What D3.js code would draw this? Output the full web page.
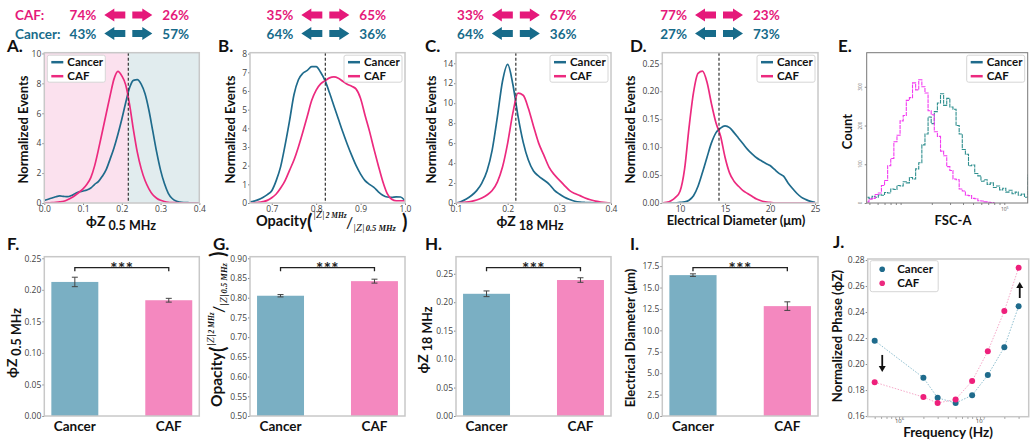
<!DOCTYPE html>
<html>
<head>
<meta charset="utf-8">
<script src="https://cdn.jsdelivr.net/npm/d3@7"></script>
<style>
body { margin: 0; background: #fff; }
</style>
</head>
<body>
<script>
// ---------- data ----------
const groups = ["Cancer", "CAF"];

// percentage of cells left / right of each threshold (panels A-D)
const splitCAF = [[74, 26], [35, 65], [33, 67], [77, 23]];
const splitCancer = [[43, 57], [64, 36], [64, 36], [27, 73]];
const thresholds = [0.2168, 0.8206, 0.2158, 14.33];

// A. phase at 0.5 MHz
const phiLowX = [0,0.01,0.02,0.03,0.04,0.05,0.06,0.07,0.08,0.09,0.1,0.11,0.12,0.13,0.14,0.15,0.16,0.17,0.18,0.19,0.2,0.21,0.22,0.23,0.24,0.25,0.26,0.27,0.28,0.29,0.3,0.31,0.32,0.33,0.34,0.35,0.36,0.37,0.38,0.39,0.4];
const phiLowCancer = [0.18,0.25,0.33,0.42,0.47,0.44,0.42,0.5,0.64,0.74,0.8,0.87,1.0,1.25,1.45,1.8,2.25,2.95,3.7,4.6,5.6,6.7,7.7,8.2,8.25,7.95,7.3,6.2,4.8,3.4,2.2,1.3,0.65,0.3,0.13,0.06,0.03,0.02,0.01,0,0];
const phiLowCAF = [0,0.01,0.02,0.04,0.07,0.12,0.22,0.35,0.52,0.72,0.95,1.25,1.7,2.5,3.6,4.8,6.0,7.2,8.3,8.8,8.5,7.9,6.6,4.9,3.4,2.3,1.5,0.95,0.55,0.32,0.18,0.1,0.05,0.03,0.02,0.01,0,0,0,0,0];

// B. opacity
const opacityX = [0.65,0.66,0.67,0.68,0.69,0.7,0.71,0.72,0.73,0.74,0.75,0.76,0.77,0.78,0.79,0.8,0.81,0.82,0.83,0.84,0.85,0.86,0.87,0.88,0.89,0.9,0.91,0.92,0.93,0.94,0.95,0.96,0.97,0.98,0.99,1.0];
const opacityCancer = [0.05,0.1,0.18,0.3,0.45,0.66,1.2,1.95,3.1,4.4,5.8,6.6,6.95,7.1,7.3,7.3,7.0,6.55,5.9,5.2,4.5,3.8,3.15,2.55,2.0,1.55,1.2,1.0,0.84,0.6,0.42,0.32,0.3,0.33,0.32,0.12];
const opacityCAF = [0,0.01,0.03,0.07,0.14,0.28,0.48,0.8,1.2,1.75,2.3,3.0,3.8,4.65,5.5,6.05,6.38,6.55,6.7,6.75,6.68,6.52,6.36,6.25,6.1,5.6,4.7,3.85,2.9,2.0,1.15,0.5,0.2,0.12,0.12,0.12];

// C. phase at 18 MHz
const phiHighX = [0.1,0.11,0.12,0.13,0.14,0.15,0.16,0.17,0.18,0.19,0.2,0.21,0.22,0.23,0.24,0.25,0.26,0.27,0.28,0.29,0.3,0.31,0.32,0.33,0.34,0.35,0.36,0.37,0.38,0.39,0.4];
const phiHighCancer = [0,0.15,0.4,0.75,1.24,2.0,3.2,5.3,8.6,12.2,13.9,11.9,8.7,6.1,4.3,3.2,2.7,2.3,1.9,1.3,0.9,0.58,0.35,0.18,0.09,0.05,0.03,0.02,0.01,0,0];
const phiHighCAF = [0,0.03,0.08,0.17,0.3,0.5,0.8,1.25,2.1,3.6,6.0,9.0,11.0,10.8,9.5,7.7,6.0,4.8,3.6,2.85,2.3,1.75,1.24,0.95,0.74,0.5,0.32,0.18,0.1,0.04,0];

// D. electrical diameter (um)
const diamX = [8,8.5,9,9.5,10,10.5,11,11.5,12,12.5,13,13.5,14,14.5,15,15.5,16,16.5,17,17.5,18,18.5,19,19.5,20,20.5,21,21.5,22,22.5,23,23.5,24,24.5,25];
const diamCancer = [0,0,0,0,0.001,0.002,0.005,0.013,0.03,0.055,0.082,0.108,0.126,0.134,0.138,0.135,0.126,0.116,0.106,0.096,0.088,0.081,0.076,0.071,0.067,0.06,0.053,0.048,0.036,0.026,0.017,0.01,0.006,0.003,0.001];
const diamCAF = [0,0.001,0.004,0.01,0.021,0.06,0.135,0.198,0.232,0.236,0.216,0.177,0.143,0.12,0.082,0.054,0.039,0.03,0.022,0.017,0.012,0.007,0.004,0.002,0.001,0,0,0,0,0,0,0,0,0,0];

// E. flow cytometry FSC-A histogram (bin centres as log10 FSC-A)
const fscBinLog = [3.68,3.71,3.74,3.77,3.80,3.83,3.86,3.89,3.92,3.95,3.98,4.01,4.04,4.07,4.10,4.13,4.16,4.19,4.22,4.25,4.28,4.31,4.34,4.37,4.40,4.43,4.46,4.49,4.52,4.55,4.58,4.61,4.64,4.67,4.70,4.73,4.76,4.79,4.82,4.85,4.88,4.91,4.94,4.97,5.00,5.03,5.06,5.09,5.12,5.15,5.18,5.21,5.24];
const fscCancer = [15,12,17,15,21,20,27,26,36,35,45,44,55,52,66,62,88,104,150,178,222,205,236,258,282,252,270,248,242,200,178,138,126,96,98,76,70,56,60,48,52,40,44,34,38,28,33,24,28,20,23,15,72];
const fscCAF = [3,10,12,22,26,45,58,96,115,158,175,212,226,265,272,310,292,318,300,284,238,228,184,172,134,122,94,84,62,60,36,31,20,19,12,11,6,5,3,2,1,0];

// F-I. means and errors
const barPhiLow = [0.2125, 0.1835], errPhiLow = [0.0075, 0.003];
const barOpacity = [0.805, 0.842], errOpacity = [0.003, 0.005];
const barPhiHigh = [0.2148, 0.239], errPhiHigh = [0.005, 0.004];
const barDiam = [16.45, 12.83], errDiam = [0.15, 0.5];

// J. normalized phase vs frequency
const freqHz = [5e5, 2e6, 3e6, 5e6, 8e6, 1.25e7, 2e7, 3e7];
const phaseCancer = [0.218, 0.1895, 0.174, 0.170, 0.176, 0.1915, 0.213, 0.2444];
const phaseCAF = [0.186, 0.1746, 0.170, 0.1728, 0.187, 0.2098, 0.2408, 0.274];

// ---------- styling ----------
const C_CAN = "#1f6b8c", C_CAF = "#ec2a7f";
const T_CAN = "#176b8a", T_CAF = "#e5197a";
const FONT = "Lato, 'Open Sans', sans-serif";
const TICKFONT = "'Open Sans', sans-serif";
const SERIF = "'Liberation Serif', 'DejaVu Serif', serif";

const svg = d3.select("body").append("svg")
    .attr("width", 1035).attr("height", 446)
    .attr("font-family", FONT);
let clipN = 0;

function panel(box) {
    const id = "clip" + (clipN++);
    svg.append("defs").append("clipPath").attr("id", id).append("rect")
        .attr("x", box.x0).attr("y", box.y0)
        .attr("width", box.x1 - box.x0).attr("height", box.y1 - box.y0);
    return {g: svg.append("g"), clip: `url(#${id})`};
}

function styleAxis(a) {
    a.select(".domain").remove();
    a.attr("font-family", TICKFONT).attr("font-size", 8.5);
    a.selectAll(".tick line").attr("stroke", "#888");
    a.selectAll(".tick text").attr("fill", "#444");
}

function frameRect(g, box, color, w) {
    g.append("rect")
        .attr("x", box.x0).attr("y", box.y0)
        .attr("width", box.x1 - box.x0).attr("height", box.y1 - box.y0)
        .attr("fill", "none").attr("stroke", color || "#c8c8c8").attr("stroke-width", w || 1.5);
}

function legend(g, lx, ly, dots) {
    const w = dots ? 68 : 58, h = dots ? 31 : 27, step = 14;
    g.append("rect").attr("x", lx).attr("y", ly).attr("width", w).attr("height", h)
        .attr("rx", 2).attr("fill", "#fff").attr("stroke", "#d6d6d6");
    groups.forEach((name, i) => {
        const yy = ly + (dots ? 8.5 : 7) + i * step;
        const col = i === 0 ? C_CAN : C_CAF;
        if (dots) {
            g.append("circle").attr("cx", lx + 12).attr("cy", yy).attr("r", 2.8).attr("fill", col);
        } else {
            g.append("line").attr("x1", lx + 4).attr("x2", lx + 16).attr("y1", yy).attr("y2", yy)
                .attr("stroke", col).attr("stroke-width", 2.5);
        }
        g.append("text").attr("x", lx + (dots ? 27 : 20)).attr("y", yy + 4)
            .attr("font-size", 11.5).attr("font-weight", 700).attr("fill", "#111").text(name);
    });
}

function panelLetter(x, y, s) {
    svg.append("text").attr("x", x).attr("y", y).attr("font-size", 17).attr("font-weight", 700)
        .attr("fill", "#111").text(s);
}

function boldLabel(x, y, s, rotate, size) {
    svg.append("text")
        .attr("transform", rotate ? `translate(${x},${y}) rotate(-90)` : `translate(${x},${y})`)
        .attr("text-anchor", "middle").attr("font-size", size || 13).attr("font-weight", 700)
        .attr("fill", "#111").text(s);
}

function phiLabel(x, y, sub, rotate) {
    const t = svg.append("text")
        .attr("transform", rotate ? `translate(${x},${y}) rotate(-90)` : `translate(${x},${y})`)
        .attr("text-anchor", "middle").attr("font-weight", 700).attr("fill", "#111");
    t.append("tspan").attr("font-size", 14).text("ϕZ");
    t.append("tspan").attr("font-size", 12.5).attr("dx", 3).attr("dy", 3.5).text(sub);
}

// "Opacity (|Z|2MHz / |Z|0.5MHz)" written as a small stacked fraction
function opacityLabel(transform, L) {
    const t = svg.append("g").attr("transform", transform).attr("fill", "#111");
    t.append("text").attr("x", 0).attr("y", 0).attr("font-size", L.size).attr("font-weight", 700).text("Opacity");
    t.append("text").attr("x", L.open).attr("y", 3).attr("font-size", 20).attr("font-weight", 700).text("(");
    const part = (x, y, sub, subSize) => {
        const s = t.append("text").attr("x", x).attr("y", y)
            .attr("font-family", SERIF).attr("font-style", "italic");
        s.append("tspan").attr("font-size", 10.5).text("|Z|");
        s.append("tspan").attr("font-size", subSize).attr("font-weight", 700).attr("dx", 1).text(sub);
    };
    part(L.num, -8, "2 MHz", 7.5);
    t.append("text").attr("x", L.slash).attr("y", 2).attr("font-size", 16).text("/");
    part(L.den, 4.5, "0.5 MHz", 8.5);
    t.append("text").attr("x", L.close).attr("y", 3).attr("font-size", 20).attr("font-weight", 700).text(")");
}

function arrowPath(a, b, yc, left) {
    const hw = 6.6, sw = 3.4, head = 10;
    if (left) {
        return `M${a},${yc}L${a + head},${yc - hw}L${a + head},${yc - sw}L${b},${yc - sw}L${b},${yc + sw}L${a + head},${yc + sw}L${a + head},${yc + hw}Z`;
    }
    return `M${b},${yc}L${b - head},${yc - hw}L${b - head},${yc - sw}L${a},${yc - sw}L${a},${yc + sw}L${b - head},${yc + sw}L${b - head},${yc + hw}Z`;
}

function drawSplit(cx, yb, vals, color) {
    const g = svg.append("g").attr("fill", color).attr("font-size", 13.5).attr("font-weight", 700);
    const yc = yb - 5;
    g.append("text").attr("x", cx - 32).attr("y", yb).attr("text-anchor", "end").text(vals[0] + "%");
    g.append("text").attr("x", cx + 34).attr("y", yb).text(vals[1] + "%");
    g.append("path").attr("d", arrowPath(cx - 24, cx - 3, yc, true));
    g.append("path").attr("d", arrowPath(cx + 4, cx + 24, yc, false));
}

// ---------- density panels (A-D) ----------
function kdePanel(o) {
    const {g, clip} = panel(o.box);
    const x = d3.scaleLinear().domain(o.xDomain).range([o.box.x0, o.box.x1]);
    const y = d3.scaleLinear().domain(o.yDomain).range([o.box.y1, o.box.y0]);
    if (o.shade) {
        g.append("rect").attr("x", x(o.xDomain[0])).attr("y", o.box.y0)
            .attr("width", x(o.thr) - x(o.xDomain[0])).attr("height", o.box.y1 - o.box.y0)
            .attr("fill", "#fbe1ee");
        g.append("rect").attr("x", x(o.thr)).attr("y", o.box.y0)
            .attr("width", x(o.xDomain[1]) - x(o.thr)).attr("height", o.box.y1 - o.box.y0)
            .attr("fill", "#e1ecee");
    }
    const line = d3.line().x(d => x(d[0])).y(d => y(d[1])).curve(d3.curveMonotoneX);
    [[o.cancer, C_CAN], [o.caf, C_CAF]].forEach(([ys, col]) => {
        g.append("path").attr("d", line(o.xs.map((v, i) => [v, ys[i]])))
            .attr("fill", "none").attr("stroke", col).attr("stroke-width", 1.7)
            .attr("clip-path", clip);
    });
    g.append("line").attr("x1", x(o.thr)).attr("x2", x(o.thr))
        .attr("y1", o.box.y0).attr("y2", o.box.y1)
        .attr("stroke", "#333").attr("stroke-width", 1.2).attr("stroke-dasharray", "3,2");
    g.append("g").attr("transform", `translate(0,${o.box.y1})`)
        .call(d3.axisBottom(x).tickValues(o.xTicks).tickFormat(d3.format(o.xFmt)).tickSize(2).tickPadding(1))
        .call(styleAxis);
    g.append("g").attr("transform", `translate(${o.box.x0},0)`)
        .call(d3.axisLeft(y).tickValues(o.yTicks).tickFormat(d3.format(o.yFmt)).tickSize(2).tickPadding(1))
        .call(styleAxis);
    frameRect(g, o.box);
    legend(g, o.legendLeft ? o.box.x0 + 3 : o.box.x1 - 61, o.box.y0 + 2.5, false);
    return x;
}

const top0 = 52.7, top1 = 203;
const xA = kdePanel({
    box: {x0: 44.3, x1: 199.3, y0: top0, y1: top1},
    xDomain: [0, 0.4], yDomain: [0, 10.05],
    xTicks: [0, 0.1, 0.2, 0.3, 0.4], yTicks: [0, 2, 4, 6, 8, 10], xFmt: ".1f", yFmt: "d",
    xs: phiLowX, cancer: phiLowCancer, caf: phiLowCAF, thr: thresholds[0],
    shade: true, legendLeft: true
});
const xB = kdePanel({
    box: {x0: 250, x1: 405, y0: top0, y1: top1},
    xDomain: [0.651, 1.0], yDomain: [0, 8.05],
    xTicks: [0.7, 0.8, 0.9, 1.0], yTicks: [0, 1, 2, 3, 4, 5, 6, 7, 8], xFmt: ".1f", yFmt: "d",
    xs: opacityX, cancer: opacityCancer, caf: opacityCAF, thr: thresholds[1]
});
const xC = kdePanel({
    box: {x0: 456, x1: 611, y0: top0, y1: top1},
    xDomain: [0.1, 0.4], yDomain: [0, 15.06],
    xTicks: [0.1, 0.2, 0.3, 0.4], yTicks: [0, 2, 4, 6, 8, 10, 12, 14], xFmt: ".1f", yFmt: "d",
    xs: phiHighX, cancer: phiHighCancer, caf: phiHighCAF, thr: thresholds[2]
});
const xD = kdePanel({
    box: {x0: 662.3, x1: 818, y0: top0, y1: top1},
    xDomain: [8.03, 25.33], yDomain: [0, 0.269],
    xTicks: [10, 15, 20, 25], yTicks: [0, 0.05, 0.1, 0.15, 0.2, 0.25], xFmt: "d", yFmt: ".2f",
    xs: diamX, cancer: diamCancer, caf: diamCAF, thr: thresholds[3]
});

// split annotations above A-D
[xA, xB, xC, xD].forEach((sc, i) => {
    const cx = sc(thresholds[i]);
    drawSplit(cx, 20, splitCAF[i], T_CAF);
    drawSplit(cx, 38.5, splitCancer[i], T_CAN);
});
svg.append("text").attr("x", 15).attr("y", 20).attr("font-size", 13.5).attr("font-weight", 700)
    .attr("fill", T_CAF).text("CAF:");
svg.append("text").attr("x", 15).attr("y", 38.5).attr("font-size", 13.5).attr("font-weight", 700)
    .attr("fill", T_CAN).text("Cancer:");

// ---------- E. flow cytometry ----------
(function () {
    const box = {x0: 866.7, x1: 1027.7, y0: top0, y1: top1};
    const {g, clip} = panel(box);
    const x = d3.scaleLog().domain([Math.pow(10, 3.673), Math.pow(10, 5.226)]).range([box.x0, box.x1]);
    const y = d3.scaleLinear().domain([0, 388]).range([box.y1, box.y0]);
    const line = d3.line().x(d => x(Math.pow(10, d[0]))).y(d => y(d[1])).curve(d3.curveStep);
    [[fscCancer, "#2f8f8f"], [fscCAF, "#f23af0"]].forEach(([ys, col]) => {
        g.append("path").attr("d", line(ys.map((v, i) => [fscBinLog[i], v])))
            .attr("fill", "none").attr("stroke", col).attr("stroke-width", 1.1)
            .attr("stroke-dasharray", "4,0.8").attr("clip-path", clip);
    });
    const minor = [5e3, 6e3, 7e3, 8e3, 9e3, 1e4, 2e4, 3e4, 4e4, 5e4, 6e4, 7e4, 8e4, 9e4, 1e5];
    const ax = g.append("g").attr("transform", `translate(0,${box.y1})`)
        .call(d3.axisBottom(x).tickValues(minor).tickFormat("").tickSize(2).tickPadding(1))
        .call(styleAxis);
    ax.selectAll(".tick").filter(d => d === 1e5).append("text")
        .attr("y", 8).attr("text-anchor", "middle").attr("font-size", 5).attr("fill", "#555")
        .text("10").append("tspan").attr("dy", -2).attr("font-size", 3.5).text("5");
    const yTicks = [0, 100, 200, 300];
    g.append("g").attr("transform", `translate(${box.x0},0)`)
        .call(d3.axisLeft(y).tickValues(yTicks).tickFormat("").tickSize(2))
        .call(styleAxis);
    g.selectAll("text.ylab").data(yTicks).join("text").attr("class", "ylab")
        .attr("transform", d => `translate(${box.x0 - 5},${y(d)}) rotate(-90)`)
        .attr("text-anchor", "middle").attr("font-family", TICKFONT)
        .attr("font-size", 4.5).attr("fill", "#666").text(d => d);
    frameRect(g, box, "#777", 1);
    legend(g, box.x1 - 61, box.y0 + 2.5, false);
})();

// ---------- bar panels (F-I) ----------
function barPanel(o) {
    const {g} = panel(o.box);
    const x = d3.scaleBand().domain(groups).range([o.box.x0, o.box.x1])
        .paddingInner(0.5).paddingOuter(0.075);
    const y = d3.scaleLinear().domain(o.yDomain).range([o.box.y1, o.box.y0]);
    const cx = d => x(d) + x.bandwidth() / 2;
    g.selectAll("rect.bar").data(groups).join("rect").attr("class", "bar")
        .attr("x", d => x(d)).attr("width", x.bandwidth())
        .attr("y", (d, i) => y(o.vals[i]))
        .attr("height", (d, i) => o.box.y1 - y(o.vals[i]))
        .attr("fill", (d, i) => i ? "#f488bf" : "#7aafc3");
    groups.forEach((d, i) => {
        const lo = y(o.vals[i] - o.errs[i]), hi = y(o.vals[i] + o.errs[i]);
        const eg = g.append("g").attr("stroke", "#444").attr("stroke-width", 1);
        eg.append("line").attr("x1", cx(d)).attr("x2", cx(d)).attr("y1", lo).attr("y2", hi);
        eg.append("line").attr("x1", cx(d) - 3).attr("x2", cx(d) + 3).attr("y1", lo).attr("y2", lo);
        eg.append("line").attr("x1", cx(d) - 3).attr("x2", cx(d) + 3).attr("y1", hi).attr("y2", hi);
    });
    g.append("g").attr("transform", `translate(${o.box.x0},0)`)
        .call(d3.axisLeft(y).tickValues(o.yTicks).tickFormat(d3.format(o.yFmt)).tickSize(2).tickPadding(1))
        .call(styleAxis);
    frameRect(g, o.box);
    g.selectAll("text.cat").data(groups).join("text").attr("class", "cat")
        .attr("x", d => cx(d)).attr("y", 431).attr("text-anchor", "middle")
        .attr("font-size", 13.5).attr("font-weight", 700).attr("fill", "#111").text(d => d);
    // significance bracket
    const by = o.box.y0 + 11;
    g.append("path")
        .attr("d", `M${cx(groups[0])},${by + 3.5}V${by}H${cx(groups[1])}V${by + 3.5}`)
        .attr("fill", "none").attr("stroke", "#222").attr("stroke-width", 1.3);
    g.append("text").attr("x", (cx(groups[0]) + cx(groups[1])) / 2).attr("y", by + 7.5)
        .attr("text-anchor", "middle").attr("font-size", 17).attr("font-weight", 700)
        .attr("letter-spacing", 0.5).attr("fill", "#222").text("***");
}

const bot0 = 256.7, bot1 = 416;
barPanel({box: {x0: 44.3, x1: 199.3, y0: bot0, y1: bot1}, yDomain: [0, 0.2525],
    yTicks: [0, 0.05, 0.1, 0.15, 0.2, 0.25], yFmt: ".2f", vals: barPhiLow, errs: errPhiLow});
barPanel({box: {x0: 250, x1: 405, y0: bot0, y1: bot1}, yDomain: [0.5, 0.904],
    yTicks: [0.5, 0.55, 0.6, 0.65, 0.7, 0.75, 0.8, 0.85, 0.9], yFmt: ".2f", vals: barOpacity, errs: errOpacity});
barPanel({box: {x0: 456, x1: 611, y0: bot0, y1: bot1}, yDomain: [0, 0.28],
    yTicks: [0, 0.05, 0.1, 0.15, 0.2, 0.25], yFmt: ".2f", vals: barPhiHigh, errs: errPhiHigh});
barPanel({box: {x0: 662.3, x1: 818, y0: bot0, y1: bot1}, yDomain: [0, 18.6],
    yTicks: [0, 2.5, 5, 7.5, 10, 12.5, 15, 17.5], yFmt: ".1f", vals: barDiam, errs: errDiam});

// ---------- J. phase vs frequency ----------
(function () {
    const box = {x0: 867.7, x1: 1028.7, y0: 259, y1: 416.7};
    const {g} = panel(box);
    const x = d3.scaleLog().domain([4.1e5, 4.0e7]).range([box.x0, box.x1]);
    const y = d3.scaleLinear().domain([0.1595, 0.2808]).range([box.y1, box.y0]);
    const line = d3.line().x(d => x(d[0])).y(d => y(d[1]));
    [[phaseCancer, "#8fbfd0", C_CAN], [phaseCAF, "#f6a9c9", "#ee1f7b"]].forEach(([ys, lc, pc]) => {
        const pts = freqHz.map((f, i) => [f, ys[i]]);
        g.append("path").attr("d", line(pts)).attr("fill", "none")
            .attr("stroke", lc).attr("stroke-width", 1).attr("stroke-dasharray", "1.5,1.5");
        g.selectAll(null).data(pts).join("circle")
            .attr("cx", d => x(d[0])).attr("cy", d => y(d[1])).attr("r", 3).attr("fill", pc);
    });
    const ticks = [5e5, 6e5, 7e5, 8e5, 9e5, 1e6, 2e6, 3e6, 4e6, 5e6, 6e6, 7e6, 8e6, 9e6, 1e7, 2e7, 3e7];
    const ax = g.append("g").attr("transform", `translate(0,${box.y1})`)
        .call(d3.axisBottom(x).tickValues(ticks).tickFormat("").tickSize(2).tickPadding(1))
        .call(styleAxis);
    ax.selectAll(".tick").filter(d => d === 1e6 || d === 1e7).append("text")
        .attr("y", 5.8).attr("text-anchor", "middle").attr("font-size", 6).attr("fill", "#444")
        .text("10").append("tspan").attr("dy", -2.5).attr("font-size", 4.2).text(d => d === 1e6 ? "6" : "7");
    g.append("g").attr("transform", `translate(${box.x0},0)`)
        .call(d3.axisLeft(y).tickValues([0.16, 0.18, 0.2, 0.22, 0.24, 0.26, 0.28])
            .tickFormat(d3.format(".2f")).tickSize(2).tickPadding(1))
        .call(styleAxis);
    frameRect(g, box);
    legend(g, box.x0 + 2.5, box.y0 + 1.7, true);
    // trend arrows
    const arrows = [[6.2e5, 0.207, 0.1938], [3.1e7, 0.2508, 0.2631]];
    arrows.forEach(([f, a, b]) => {
        const px = x(f), ya = y(a), yb = y(b), dir = yb > ya ? 1 : -1;
        g.append("line").attr("x1", px).attr("x2", px).attr("y1", ya).attr("y2", yb - dir * 5)
            .attr("stroke", "#111").attr("stroke-width", 1.8);
        g.append("path").attr("d", `M${px - 3.5},${yb - dir * 6}L${px + 3.5},${yb - dir * 6}L${px},${yb}Z`)
            .attr("fill", "#111");
    });
})();

// ---------- axis titles and letters ----------
[["A.", 7, 52], ["B.", 218, 52], ["C.", 425, 52], ["D.", 630, 52], ["E.", 838, 52],
 ["F.", 7, 250], ["G.", 213, 250], ["H.", 425, 250], ["I.", 630, 250], ["J.", 833, 248]]
    .forEach(([s, x, y]) => panelLetter(x, y, s));

boldLabel(28, 129.5, "Normalized Events", true);
boldLabel(235, 129.5, "Normalized Events", true);
boldLabel(436, 129.5, "Normalized Events", true);
boldLabel(635, 129.5, "Normalized Events", true);
boldLabel(852, 131.5, "Count", true);

phiLabel(121, 226, "0.5 MHz", false);
opacityLabel("translate(256,226)",
    {size: 14.5, open: 51, num: 57, slash: 90, den: 97, close: 146});
phiLabel(530, 226, "18 MHz", false);
boldLabel(736, 225, "Electrical Diameter (μm)", false);
boldLabel(953, 225, "FSC-A", false);

phiLabel(17, 343, "0.5 MHz", true);
opacityLabel("translate(222,407) rotate(-90)",
    {size: 15.5, open: 55, num: 61, slash: 94, den: 101, close: 150});
phiLabel(428, 340, "18 MHz", true);
boldLabel(635, 338, "Electrical Diameter (μm)", true);
boldLabel(842, 336, "Normalized Phase (ϕZ)", true);
boldLabel(948, 437, "Frequency (Hz)", false, 13.5);
</script>
</body>
</html>
